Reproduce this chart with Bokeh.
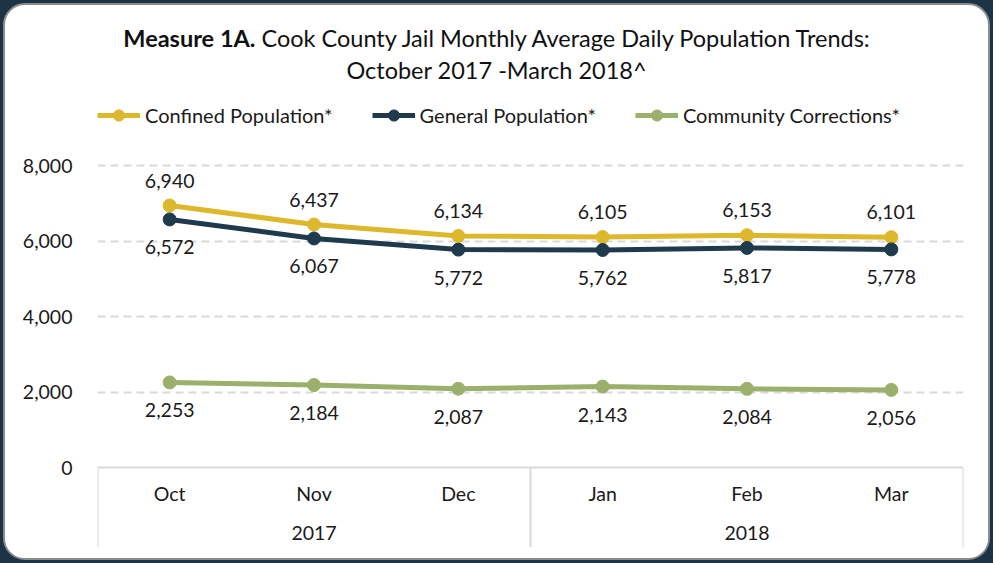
from bokeh.plotting import figure
from bokeh.models import (FactorRange, Range1d, FixedTicker, NumeralTickFormatter,
                          Legend, LegendItem, Div, ColumnDataSource, CategoricalAxis)
from bokeh.layouts import column
from bokeh.core.properties import value
from bokeh.embed import file_html
from bokeh.resources import INLINE

# ---- data ----
years = ["2017", "2017", "2017", "2018", "2018", "2018"]
months = ["Oct", "Nov", "Dec", "Jan", "Feb", "Mar"]
confined = [6940, 6437, 6134, 6105, 6153, 6101]
general = [6572, 6067, 5772, 5762, 5817, 5778]
community = [2253, 2184, 2087, 2143, 2084, 2056]
y_ticks = [0, 2000, 4000, 6000, 8000]
series_names = ["Confined Population*", "General Population*", "Community Corrections*"]

FONT = "Lato"
TXT = "#1a1a1a"
C_CONF = "#DDB72C"
C_GEN = "#1F3A4C"
C_COMM = "#9BB06B"
GRID = "#d9d9d9"
FS = "19.5px"

factors = list(zip(years, months))

# pixel layout of frame
frame_h = 452
px_per_unit = 302.0 / 8000.0
y_top = 8000 + 70 / px_per_unit
y_bot = -(frame_h - 70 - 302) / px_per_unit

p = figure(x_range=FactorRange(*factors, factor_padding=0, group_padding=0, range_padding=0),
           y_range=Range1d(y_bot, y_top),
           width=983, height=462, output_backend="svg", toolbar_location=None,
           min_border_left=92, min_border_right=25, min_border_top=5, min_border_bottom=5)
p.outline_line_color = None
p.background_fill_color = "white"
p.border_fill_color = "white"

# grid
p.xgrid.grid_line_color = None
p.ygrid.ticker = FixedTicker(ticks=y_ticks[1:])
p.ygrid.grid_line_color = GRID
p.ygrid.grid_line_width = 2
p.ygrid.grid_line_dash = "8 5"

# y axis
p.yaxis.ticker = FixedTicker(ticks=y_ticks)
p.yaxis.formatter = NumeralTickFormatter(format="0,0")
p.yaxis.axis_line_color = None
p.yaxis.major_tick_line_color = None
p.yaxis.minor_tick_line_color = None
p.yaxis.major_label_standoff = 19
p.yaxis.major_label_text_font = FONT
p.yaxis.major_label_text_font_size = FS
p.yaxis.major_label_text_color = TXT

# x axis (months) placed at y=0 inside frame
xa = p.xaxis[0]
xa.fixed_location = 0
xa.axis_line_color = GRID
xa.axis_line_width = 2
xa.major_tick_line_color = None
xa.minor_tick_line_color = None
xa.major_label_text_font = FONT
xa.major_label_text_font_size = FS
xa.major_label_text_color = TXT
xa.major_label_standoff = 8
xa.group_text_color = None
xa.separator_line_color = None

# second categorical axis carrying the year labels lower down
ya = CategoricalAxis(fixed_location=0, axis_line_color=None, major_tick_line_color=None,
                     minor_tick_line_color=None, major_label_text_color=None,
                     major_label_text_font=FONT, major_label_text_font_size=FS,
                     major_label_standoff=52, group_text_font=FONT, group_text_font_size=FS,
                     group_text_font_style="normal", group_text_color=TXT,
                     separator_line_color=None)
p.add_layout(ya, "below")

# vertical box lines for the category axis
n = len(factors)
bounds = [0, years.count("2017"), n]
p.segment(x0=bounds, x1=bounds, y0=[0] * 3, y1=[y_bot] * 3, line_color=GRID, line_width=2)

# series
items = []
for vals, col, name, off in [(confined, C_CONF, series_names[0], -25),
                             (general, C_GEN, series_names[1], 28),
                             (community, C_COMM, series_names[2], 28)]:
    src = ColumnDataSource(dict(x=factors, y=vals, lab=[f"{v:,}" for v in vals]))
    r1 = p.line("x", "y", source=src, line_color=col, line_width=5)
    r2 = p.scatter("x", "y", source=src, size=13, fill_color=col, line_color=col)
    p.text("x", "y", text="lab", source=src, text_align="center", text_baseline="middle",
           y_offset=off, text_font=value(FONT), text_font_size=FS, text_color=TXT)
    items.append(LegendItem(label=name, renderers=[r1, r2]))

legend = Legend(items=items, orientation="horizontal", location=(0, frame_h - 6 - 28),
                glyph_width=43, glyph_height=28, label_standoff=5, spacing=39,
                margin=0, padding=0, border_line_color=None, background_fill_alpha=0,
                label_text_font=FONT, label_text_font_size="20px", label_text_color=TXT)
p.add_layout(legend, "center")

title = Div(text=("<div style='text-align:center;font-family:Lato;font-size:23.5px;color:#111;"
                  "line-height:32px;padding-top:17px;width:983px'>"
                  "<b>Measure 1A.</b> Cook County Jail Monthly Average Daily Population Trends:<br>"
                  "October 2017 -March 2018^</div>"),
            width=983, height=85)
title.margin = (0, 0, 0, 0)

inner = column(title, p, width=987, height=557,
               styles={"background-color": "white", "border": "2px solid #8c8c8c",
                       "border-radius": "22px", "overflow": "hidden"})
inner.margin = (3, 3, 3, 3)
root = column(inner, width=993, height=563, styles={"background-color": "#1c3446"})

open("out.html", "w").write(file_html(root, INLINE))
